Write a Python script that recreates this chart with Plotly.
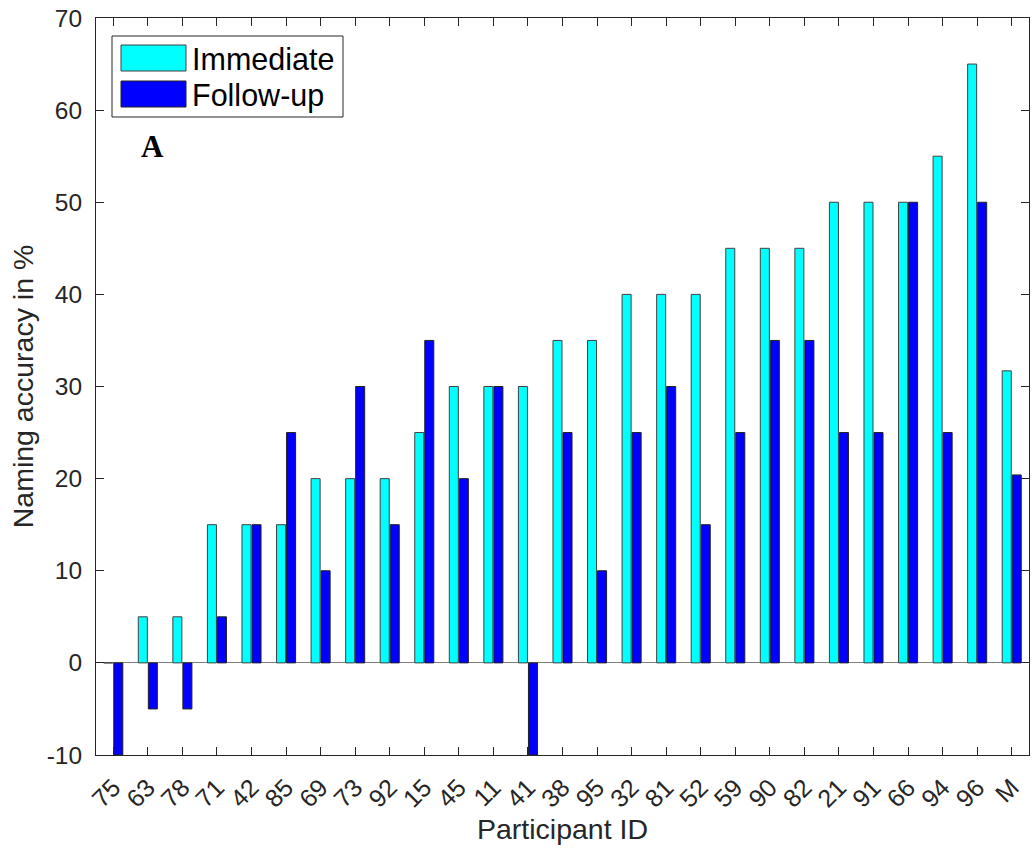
import plotly.graph_objects as go

participants = ["75", "63", "78", "71", "42", "85", "69", "73", "92", "15", "45", "11", "41",
                "38", "95", "32", "81", "52", "59", "90", "82", "21", "91", "66", "94", "96", "M"]
immediate = [0, 5, 5, 15, 15, 15, 20, 20, 20, 25, 30, 30, 30,
             35, 35, 40, 40, 40, 45, 45, 45, 50, 50, 50, 55, 65, 31.7]
follow_up = [-10, -5, -5, 5, 15, 25, 10, 30, 15, 35, 20, 30, -10,
             25, 10, 25, 30, 15, 25, 35, 35, 25, 25, 50, 25, 50, 20.4]
y_ticks = [-10, 0, 10, 20, 30, 40, 50, 60, 70]
y_tick_text = ["-10", "0", "10", "20", "30", "40", "50", "60", "70"]

CYAN = "#00FFFF"
BLUE = "#0000FF"
FONT = "Liberation Sans, Arial, Helvetica, sans-serif"
TXT = "#262626"

fig = go.Figure()
fig.add_trace(go.Bar(x=participants, y=immediate, name="Immediate",
                     marker=dict(color=CYAN, line=dict(color="#404040", width=1))))
fig.add_trace(go.Bar(x=participants, y=follow_up, name="Follow-up",
                     marker=dict(color=BLUE, line=dict(color="#202020", width=1))))

fig.update_layout(
    width=1033, height=848,
    margin=dict(l=96, r=4, t=18, b=93),
    paper_bgcolor="white", plot_bgcolor="white",
    barmode="group", bargap=0.42, bargroupgap=0.1,
    showlegend=False,
    font=dict(family=FONT, color=TXT, size=24),
)
fig.update_xaxes(
    type="category", range=[-0.5, len(participants) - 0.5],
    showline=True, linecolor="#262626", linewidth=1, mirror="ticks",
    ticks="inside", ticklen=8, tickcolor="#262626", tickangle=-45,
    tickfont=dict(size=25, family=FONT, color=TXT), ticklabelstandoff=7,
    title=dict(text="Participant ID", font=dict(size=28.5, family=FONT, color=TXT), standoff=2),
    showgrid=False,
)
fig.update_yaxes(
    range=[-10, 70], tickvals=y_ticks, ticktext=y_tick_text,
    showline=True, linecolor="#262626", linewidth=1, mirror="ticks",
    ticks="inside", ticklen=8, tickcolor="#262626",
    tickfont=dict(size=24.5, family=FONT, color=TXT), ticklabelstandoff=8,
    title=dict(text="Naming accuracy in %", font=dict(size=28.5, family=FONT, color=TXT), standoff=4),
    showgrid=False, zeroline=True, zerolinecolor="#7f7f7f", zerolinewidth=1,
)

# legend drawn manually (box + swatches + labels), in paper coordinates
W, H = 1033 - 96 - 4, 848 - 18 - 93
def px(x):
    return (x - 96) / W
def py(y):
    return 1 - (y - 18) / H

fig.add_shape(type="rect", xref="paper", yref="paper",
              x0=px(112), x1=px(343), y0=py(117), y1=py(36),
              line=dict(color="#262626", width=1), fillcolor="white")
fig.add_shape(type="rect", xref="paper", yref="paper",
              x0=px(121), x1=px(186), y0=py(71), y1=py(45),
              line=dict(color="#404040", width=1), fillcolor=CYAN)
fig.add_shape(type="rect", xref="paper", yref="paper",
              x0=px(121), x1=px(186), y0=py(107), y1=py(81),
              line=dict(color="#202020", width=1), fillcolor=BLUE)
fig.add_annotation(xref="paper", yref="paper", x=px(190), y=py(59), text="Immediate",
                   showarrow=False, xanchor="left", yanchor="middle",
                   font=dict(size=30.5, family=FONT, color="black"))
fig.add_annotation(xref="paper", yref="paper", x=px(190), y=py(96), text="Follow-up",
                   showarrow=False, xanchor="left", yanchor="middle",
                   font=dict(size=30.5, family=FONT, color="black"))
fig.add_annotation(xref="paper", yref="paper", x=px(152), y=py(147), text="<b>A</b>",
                   showarrow=False, xanchor="center", yanchor="middle",
                   font=dict(size=31, family="Liberation Serif, Times New Roman, serif", color="black"))

fig.write_html("out.html")
